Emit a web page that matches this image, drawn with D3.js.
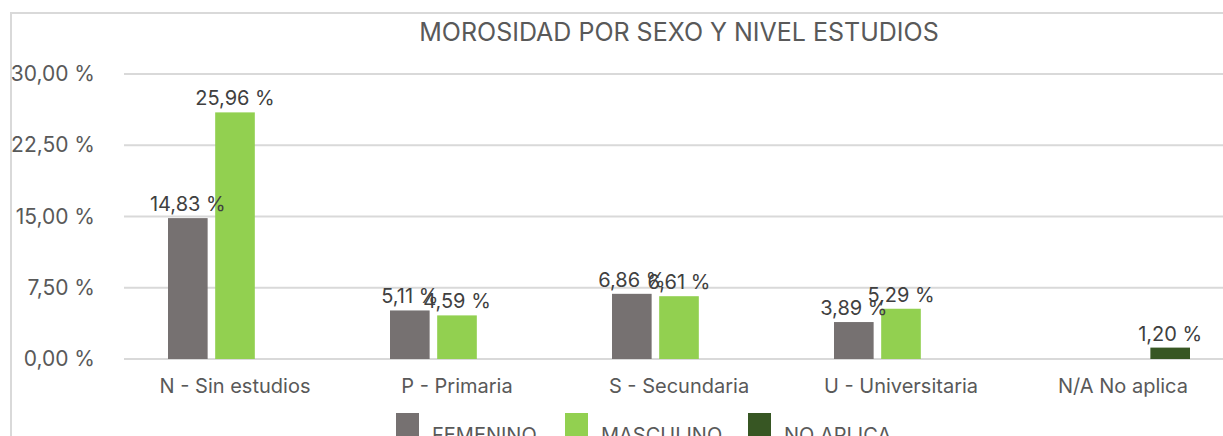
<!DOCTYPE html>
<html>
<head>
<meta charset="utf-8">
<script src="https://cdn.jsdelivr.net/npm/d3@7"></script>
<style>
  body { margin: 0; background: #fff; }
  text { font-family: Inter, "Noto Sans", sans-serif; }
</style>
</head>
<body>
<svg width="1223" height="436"></svg>
<script>
// data
var categories = ["N - Sin estudios", "P - Primaria", "S - Secundaria", "U - Universitaria", "N/A No aplica"];
var seriesNames = ["FEMENINO", "MASCULINO", "NO APLICA"];
var femenino = [14.83, 5.11, 6.86, 3.89, null];
var masculino = [25.96, 4.59, 6.61, 5.29, null];
var noAplica = [null, null, null, null, 1.20];
var yTicks = [0, 7.5, 15, 22.5, 30];
var colors = ["#767171", "#92D050", "#375623"];

var svg = d3.select("svg");
var plot = {left: 124, right: 1234, top: 74, bottom: 359};
var font = "Inter, 'Noto Sans', sans-serif";

// chart frame (runs off the edges like the original)
svg.append("rect")
  .attr("x", 11).attr("y", 13)
  .attr("width", 1400).attr("height", 500)
  .attr("fill", "none").attr("stroke", "#D9D9D9").attr("stroke-width", 2);

svg.append("text")
  .attr("x", 679).attr("y", 41)
  .attr("text-anchor", "middle")
  .attr("font-size", 25).attr("fill", "#595959")
  .text("MOROSIDAD POR SEXO Y NIVEL ESTUDIOS");

var x0 = d3.scaleBand().domain(categories).range([plot.left, plot.right]).paddingInner(0).paddingOuter(0);
var x1 = d3.scaleBand().domain(seriesNames).range([44, x0.bandwidth() - 44]).paddingInner(0.16);
var y = d3.scaleLinear().domain([0, 30]).range([plot.bottom, plot.top]);

var fmt = function (v) { return d3.format(".2f")(v).replace(".", ",") + " %"; };

// gridlines
svg.append("g").selectAll("line").data(yTicks).join("line")
  .attr("x1", plot.left).attr("x2", 1223)
  .attr("y1", function (d) { return y(d); }).attr("y2", function (d) { return y(d); })
  .attr("stroke", "#D9D9D9").attr("stroke-width", 2);

// y axis labels
var yAxis = d3.axisLeft(y).tickValues(yTicks).tickSize(0).tickPadding(0).tickFormat(fmt);
svg.append("g")
  .attr("transform", "translate(95,0)")
  .call(yAxis)
  .call(function (g) { g.select(".domain").remove(); })
  .selectAll("text")
  .attr("font-size", 21).attr("fill", "#595959")
  .attr("font-family", font);

// category labels
var xAxis = d3.axisBottom(x0).tickSize(0).tickPadding(0);
svg.append("g")
  .attr("transform", "translate(0," + (plot.bottom + 20) + ")")
  .call(xAxis)
  .call(function (g) { g.select(".domain").remove(); })
  .selectAll("text")
  .attr("font-size", 20).attr("fill", "#595959")
  .attr("font-family", font);

var table = [];
var allSeries = [femenino, masculino, noAplica];
allSeries.forEach(function (vals, s) {
  vals.forEach(function (v, i) {
    if (v !== null) table.push({cat: categories[i], series: seriesNames[s], value: v, color: colors[s]});
  });
});

svg.append("g").selectAll("rect").data(table).join("rect")
  .attr("x", function (d) { return x0(d.cat) + x1(d.series); })
  .attr("width", x1.bandwidth())
  .attr("y", function (d) { return y(d.value); })
  .attr("height", function (d) { return y(0) - y(d.value); })
  .attr("fill", function (d) { return d.color; });

svg.append("g").selectAll("text").data(table).join("text")
  .attr("x", function (d) { return x0(d.cat) + x1(d.series) + x1.bandwidth() / 2; })
  .attr("y", function (d) { return y(d.value) - 7; })
  .attr("text-anchor", "middle")
  .attr("font-size", 20).attr("fill", "#404040")
  .text(function (d) { return fmt(d.value); });

// legend
var legendX = [396, 565, 748];
var legend = svg.append("g").selectAll("g").data(seriesNames).join("g")
  .attr("transform", function (d, i) { return "translate(" + legendX[i] + ",413)"; });
legend.append("rect").attr("width", 23).attr("height", 23)
  .attr("fill", function (d, i) { return colors[i]; });
legend.append("text").attr("x", 36).attr("y", 29)
  .attr("font-size", 20).attr("fill", "#595959")
  .text(function (d) { return d; });
</script>
</body>
</html>
